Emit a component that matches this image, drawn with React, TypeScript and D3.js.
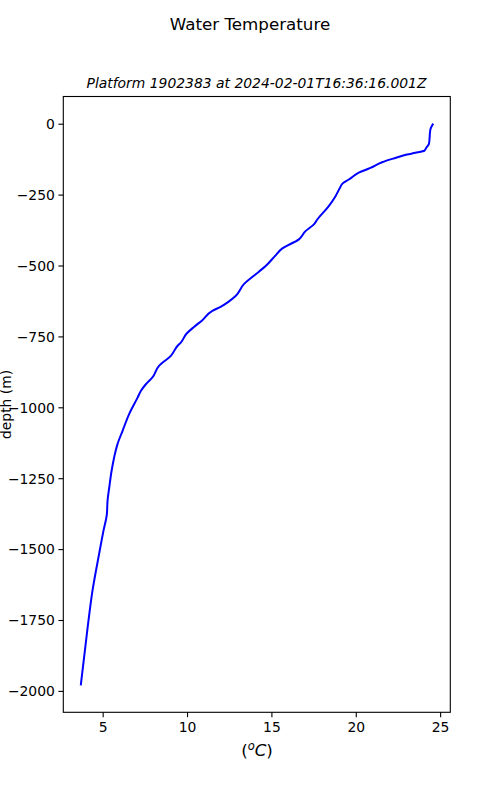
import React from "react";
import * as d3 from "d3";

const temperature: number[] = [
  24.53, 24.39, 24.31, 24.15, 24.04, 23.5, 23.01, 22.32, 21.53, 20.84, 20.15, 19.56, 19.22, 19.02,
  18.77, 18.37, 17.69, 17.49, 16.99, 16.6, 15.62, 15.18, 14.63, 14.23, 13.34, 12.85, 12.36, 11.96,
  11.47, 10.88, 10.38, 9.95, 9.6, 9.4, 9.01, 8.31, 7.92, 7.53, 7.24, 7.04, 6.54, 6.15, 5.85, 5.65,
  5.5, 5.36, 5.26, 5.22, 5.02, 4.76, 4.37, 4.08, 3.68,
];
const depth: number[] = [
  -1, -19, -69, -83, -93, -101, -107, -119, -134, -154, -171, -195, -207, -226, -254, -289, -336,
  -353, -377, -406, -438, -465, -500, -520, -564, -606, -629, -644, -658, -691, -715, -738, -770,
  -782, -817, -852, -893, -917, -940, -964, -1022, -1081, -1128, -1175, -1222, -1281, -1327,
  -1375, -1433, -1515, -1644, -1774, -1975,
];
const xTicks: number[] = [5, 10, 15, 20, 25];
const yTicks: number[] = [0, -250, -500, -750, -1000, -1250, -1500, -1750, -2000];

const W = 500;
const H = 800;
const left = 63.3;
const right = 450.3;
const top = 96.5;
const bottom = 712.3;
const font = "DejaVu Sans, sans-serif";

export default function App() {
  const xMin = d3.min(temperature)!;
  const xMax = d3.max(temperature)!;
  const yMin = d3.min(depth)!;
  const yMax = d3.max(depth)!;
  const xm = (xMax - xMin) * 0.05;
  const ym = (yMax - yMin) * 0.05;
  const x = d3.scaleLinear().domain([xMin - xm, xMax + xm]).range([left, right]);
  const y = d3.scaleLinear().domain([yMin - ym, yMax + ym]).range([bottom, top]);
  const pts = temperature.map((t, i) => [t, depth[i]] as [number, number]);
  const line = d3
    .line<[number, number]>()
    .x((d) => x(d[0]))
    .y((d) => y(d[1]))
    .curve(d3.curveMonotoneY);
  const fmt = (v: number) => (v < 0 ? "\u2212" + Math.abs(v) : String(v));

  return (
    <svg
      width={W}
      height={H}
      style={{ position: "absolute", left: 0, top: 0, background: "#fff" }}
      fontFamily={font}
    >
      <rect x={0} y={0} width={W} height={H} fill="#fff" />
      <text x={250} y={30} textAnchor="middle" fontSize={16.7} fill="#000">
        Water Temperature
      </text>
      <text x={256.5} y={88} textAnchor="middle" fontSize={13.9} fontStyle="italic" fill="#000">
        Platform 1902383 at 2024-02-01T16:36:16.001Z
      </text>
      <path d={line(pts)!} fill="none" stroke="#0000ff" strokeWidth={2} strokeLinejoin="round" strokeLinecap="square" />
      <rect x={left} y={top} width={right - left} height={bottom - top} fill="none" stroke="#000" strokeWidth={1.1} />
      {xTicks.map((t) => (
        <g key={"x" + t}>
          <line x1={x(t)} x2={x(t)} y1={bottom} y2={bottom + 4.9} stroke="#000" strokeWidth={1.1} />
          <text x={x(t)} y={bottom + 20} textAnchor="middle" fontSize={13.9} fill="#000">
            {fmt(t)}
          </text>
        </g>
      ))}
      {yTicks.map((t) => (
        <g key={"y" + t}>
          <line x1={left - 4.9} x2={left} y1={y(t)} y2={y(t)} stroke="#000" strokeWidth={1.1} />
          <text x={left - 8.4} y={y(t)} dy="0.35em" textAnchor="end" fontSize={13.9} fill="#000">
            {fmt(t)}
          </text>
        </g>
      ))}
      <text x={257} y={756} textAnchor="middle" fontSize={16.7} fill="#000">
        <tspan>(</tspan>
        <tspan fontStyle="italic" fontSize={11.5} dy={-6}>o</tspan>
        <tspan fontStyle="italic" dy={6}>C</tspan>
        <tspan>)</tspan>
      </text>
      <text
        transform={`translate(10.5,${(top + bottom) / 2}) rotate(-90)`}
        textAnchor="middle"
        fontSize={13.9}
        fill="#000"
      >
        depth (m)
      </text>
    </svg>
  );
}
